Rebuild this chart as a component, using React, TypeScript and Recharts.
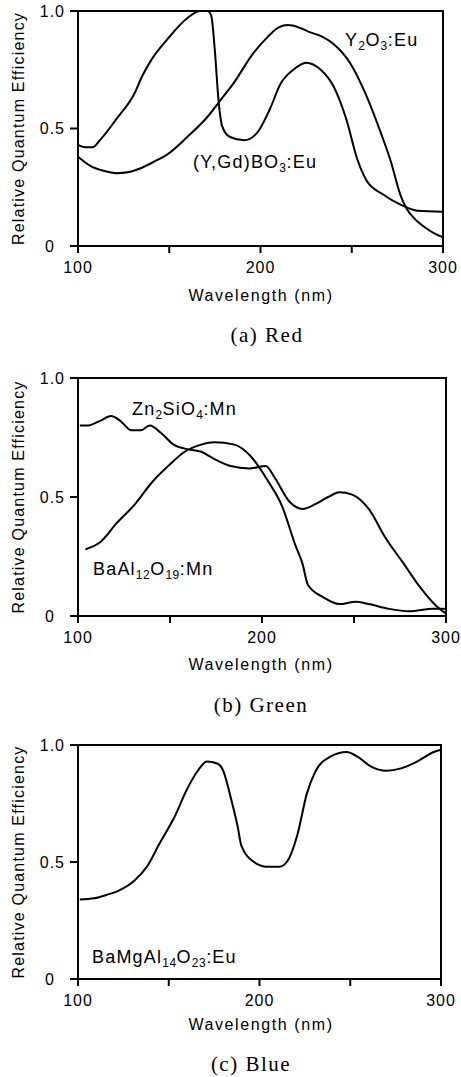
import React from 'react';
import { LineChart, Line, XAxis, YAxis } from 'recharts';

// (a) Red
const y2o3Wl = [100, 107, 114, 121, 128, 134, 142, 149, 160, 171, 178, 185, 196, 204, 210, 215, 221, 227, 234, 240, 249, 258, 266, 271, 277, 280, 284, 290, 295, 300];
const y2o3Qe = [0.38, 0.34, 0.32, 0.31, 0.315, 0.33, 0.36, 0.39, 0.465, 0.55, 0.62, 0.69, 0.82, 0.89, 0.93, 0.94, 0.93, 0.91, 0.89, 0.86, 0.78, 0.64, 0.48, 0.37, 0.21, 0.16, 0.12, 0.08, 0.055, 0.037];
const ygdWl = [100, 104, 108, 112, 121, 131, 135, 140, 149, 160, 167, 171, 173, 175, 177, 179, 183, 191, 198, 205, 211, 218, 225, 233, 240, 247, 253, 258, 267, 277, 286, 300];
const ygdQe = [0.43, 0.42, 0.42, 0.45, 0.54, 0.65, 0.72, 0.79, 0.88, 0.97, 1.0, 1.0, 0.98, 0.83, 0.62, 0.51, 0.465, 0.45, 0.48, 0.58, 0.69, 0.75, 0.78, 0.75, 0.68, 0.54, 0.37, 0.28, 0.22, 0.175, 0.15, 0.146];

// (b) Green
const znWl = [101, 105, 112, 118, 123, 129, 134, 139, 145, 152, 160, 167, 174, 183, 193, 202, 207, 215, 222, 229, 236, 242, 249, 258, 267, 277, 286, 295, 300];
const znQe = [0.8, 0.8, 0.82, 0.84, 0.82, 0.78, 0.78, 0.8, 0.77, 0.72, 0.7, 0.69, 0.66, 0.63, 0.62, 0.63, 0.58, 0.48, 0.45, 0.47, 0.5, 0.52, 0.51, 0.45, 0.33, 0.22, 0.12, 0.04, 0.01];
const baAlWl = [104, 112, 121, 131, 140, 149, 158, 167, 174, 185, 194, 203, 211, 218, 222, 225, 233, 242, 251, 258, 269, 280, 293, 300];
const baAlQe = [0.28, 0.31, 0.39, 0.47, 0.56, 0.63, 0.69, 0.72, 0.73, 0.72, 0.67, 0.57, 0.46, 0.3, 0.22, 0.13, 0.08, 0.05, 0.06, 0.05, 0.03, 0.02, 0.03, 0.03];

// (c) Blue
const bamWl = [101, 109, 116, 123, 131, 138, 145, 153, 160, 166, 171, 177, 180, 184, 188, 190, 197, 204, 211, 215, 221, 226, 231, 239, 248, 254, 261, 270, 278, 287, 296, 300];
const bamQe = [0.34, 0.345, 0.36, 0.38, 0.42, 0.48, 0.58, 0.69, 0.81, 0.89, 0.93, 0.92, 0.89, 0.78, 0.65, 0.57, 0.5, 0.48, 0.48, 0.5, 0.62, 0.79, 0.89, 0.95, 0.97, 0.95, 0.91, 0.89, 0.9, 0.93, 0.97, 0.98];

const xTicks = [100, 150, 200, 250, 300];
const yTicks = [0, 0.5, 1];

const toData = (wl: number[], qe: number[]) => wl.map((w, i) => ({ wl: w, qe: qe[i] }));

const FONT = 'Liberation Sans, Arial, sans-serif';
const INK = '#000';

// panel geometry: top of chart, plot height, right margin
const panels = [
  { top: 0, plotH: 235, right: 18 },
  { top: 367, plotH: 238, right: 15 },
  { top: 734, plotH: 234, right: 20 },
];

const XTick = (props: any) => {
  const { x, y, payload } = props;
  const v = payload.value;
  if (v % 100 !== 0) return null;
  return (
    <text x={x} y={y} dy="0.71em" textAnchor="middle" fontFamily={FONT} fontSize={16} letterSpacing={1} fill={INK}>
      {String(v)}
    </text>
  );
};

const YTick = (props: any) => {
  const { x, y, payload } = props;
  const v = payload.value;
  const label = v === 0 ? '0' : v === 1 ? '1.0' : String(v);
  return (
    <text x={v === 0 ? x - 10 : x} y={y} dy="0.36em" textAnchor="end" fontFamily={FONT} fontSize={16} letterSpacing={1} fill={INK}>
      {label}
    </text>
  );
};

interface PanelProps {
  top: number;
  plotH: number;
  right: number;
  series: { wl: number[]; qe: number[] }[];
}

const Panel: React.FC<PanelProps> = ({ top, plotH, right, series }) => (
  <div style={{ position: 'absolute', left: 0, top }}>
    <LineChart width={461} height={11 + plotH + 40} margin={{ top: 11, right, bottom: 0, left: 0 }}>
      <XAxis
        dataKey="wl"
        type="number"
        domain={[100, 300]}
        ticks={xTicks}
        allowDataOverflow
        height={40}
        tickSize={7}
        tickMargin={9}
        stroke={INK}
        strokeWidth={2}
        tick={<XTick />}
      />
      <YAxis
        type="number"
        domain={[0, 1]}
        ticks={yTicks}
        width={78}
        tickSize={8}
        tickMargin={5}
        stroke={INK}
        strokeWidth={2}
        tick={<YTick />}
      />
      {series.map((s, i) => (
        <Line
          key={i}
          data={toData(s.wl, s.qe)}
          dataKey="qe"
          type="monotone"
          stroke={INK}
          strokeWidth={2}
          dot={false}
          isAnimationActive={false}
        />
      ))}
    </LineChart>
  </div>
);

const txt: React.CSSProperties = {
  position: 'absolute',
  fontFamily: FONT,
  fontSize: 16,
  lineHeight: '16px',
  letterSpacing: 1.2,
  color: INK,
  whiteSpace: 'nowrap',
};

const lbl: React.CSSProperties = { ...txt, fontSize: 18, lineHeight: '18px', letterSpacing: 1.2 };

const Sub: React.FC<{ children: React.ReactNode }> = ({ children }) => (
  <span style={{ fontSize: 12, position: 'relative', top: 4, letterSpacing: 0.5 }}>{children}</span>
);

const XTitle: React.FC<{ baseline: number }> = ({ baseline }) => (
  <div style={{ ...txt, letterSpacing: 1.6, left: 111, width: 300, textAlign: 'center', top: baseline - 13.5 }}>
    Wavelength (nm)
  </div>
);

const Caption: React.FC<{ baseline: number; cx: number; text: string }> = ({ baseline, cx, text }) => (
  <div
    style={{
      position: 'absolute',
      left: cx - 150,
      width: 300,
      textAlign: 'center',
      top: baseline - 17.6,
      fontFamily: 'Liberation Serif, Times New Roman, serif',
      fontSize: 21,
      lineHeight: '21px',
      letterSpacing: 1.5,
      color: INK,
      whiteSpace: 'nowrap',
    }}
  >
    {text}
  </div>
);

// one svg over the whole page for the boxes and rotated y titles
const Overlay: React.FC = () => (
  <svg style={{ position: 'absolute', left: 0, top: 0, pointerEvents: 'none' }} width={461} height={1077}>
    {panels.map((p, i) => (
      <g key={i}>
        <rect x={78} y={p.top + 11} width={461 - p.right - 78} height={p.plotH} fill="none" stroke={INK} strokeWidth={2} />
        <text
          transform={`translate(18 ${p.top + 11 + p.plotH / 2}) rotate(-90)`}
          textAnchor="middle"
          dominantBaseline="central"
          fontFamily={FONT}
          fontSize={16}
          letterSpacing={1.2}
          fill={INK}
        >
          Relative Quantum Efficiency
        </text>
      </g>
    ))}
  </svg>
);

export default function App() {
  return (
    <div style={{ position: 'absolute', left: 0, top: 0, width: 461, height: 1077 }}>
      <Panel {...panels[2]} series={[{ wl: bamWl, qe: bamQe }]} />
      <Panel {...panels[1]} series={[{ wl: znWl, qe: znQe }, { wl: baAlWl, qe: baAlQe }]} />
      <Panel {...panels[0]} series={[{ wl: y2o3Wl, qe: y2o3Qe }, { wl: ygdWl, qe: ygdQe }]} />
      <Overlay />

      <XTitle baseline={301.5} />
      <div style={{ ...lbl, left: 345, top: 31 }}>
        Y<Sub>2</Sub>O<Sub>3</Sub>:Eu
      </div>
      <div style={{ ...lbl, left: 193, top: 153 }}>
        (Y,Gd)BO<Sub>3</Sub>:Eu
      </div>
      <Caption baseline={343} cx={267} text="(a) Red" />

      <XTitle baseline={670} />
      <div style={{ ...lbl, left: 132, top: 400 }}>
        Zn<Sub>2</Sub>SiO<Sub>4</Sub>:Mn
      </div>
      <div style={{ ...lbl, left: 93, top: 560 }}>
        BaAl<Sub>12</Sub>O<Sub>19</Sub>:Mn
      </div>
      <Caption baseline={713} cx={261} text="(b) Green" />

      <XTitle baseline={1030} />
      <div style={{ ...lbl, left: 92, top: 948 }}>
        BaMgAl<Sub>14</Sub>O<Sub>23</Sub>:Eu
      </div>
      <Caption baseline={1072} cx={251} text="(c) Blue" />
    </div>
  );
}
